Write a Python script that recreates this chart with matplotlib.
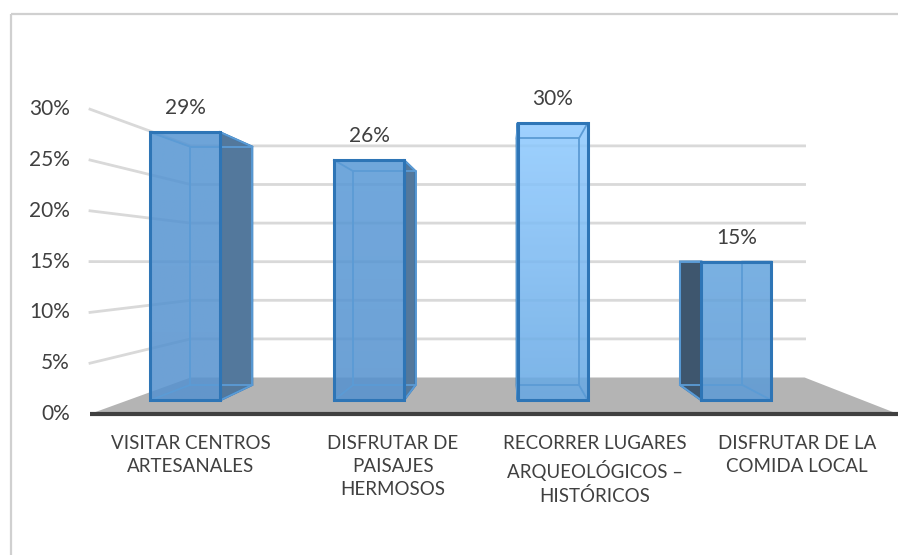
import numpy as np
import matplotlib
matplotlib.use('Agg')
import matplotlib.pyplot as plt
from matplotlib.patches import Polygon, Rectangle
from matplotlib.colors import to_rgb

plt.rcParams['font.family'] = ['Lato', 'DejaVu Sans']

# datos
categorias = ["VISITAR CENTROS\nARTESANALES",
              "DISFRUTAR DE\nPAISAJES\nHERMOSOS",
              "RECORRER LUGARES\nARQUEOLÓGICOS –\nHISTÓRICOS",
              "DISFRUTAR DE LA\nCOMIDA LOCAL"]
valores = [29, 26, 30, 15]
etiquetas = ["29%", "26%", "30%", "15%"]
ticks = [0, 5, 10, 15, 20, 25, 30]

# perspectiva (punto de fuga) y escala
VPX, VPY = 509.0, 262.0
Y0, PPU = 414.0, 10.16          # 0% en el plano frontal, px por 1%
K = 0.316                        # profundidad
X_LEFT, SLOT = 90.0, 202.0
BAR_W, BAR_SHIFT = 77.0, -38.0
Z1, Z2 = 0.316, 0.749


def proj(X, v, z):
    s = 1.0 / (1.0 + K * z)
    return VPX + (X - VPX) * s, VPY + (Y0 - PPU * v - VPY) * s


fig = plt.figure(figsize=(8.98, 5.55), dpi=100)
ax = fig.add_axes([0, 0, 1, 1])
ax.set_xlim(0, 898)
ax.set_ylim(555, 0)
ax.axis('off')

# marco del grafico
ax.add_patch(Rectangle((10.5, 13.5), 900, 560, fill=False, ec='#d0d0d0', lw=1.6, zorder=0))

X_RIGHT = X_LEFT + SLOT * len(valores)

# lineas de cuadricula (pared trasera y lateral)
for t in ticks[1:]:
    a = proj(X_LEFT, t, 0)
    b = proj(X_LEFT, t, 1)
    c = proj(X_RIGHT, t, 1)
    ax.plot([a[0], b[0], c[0]], [a[1], b[1], c[1]], color='#d9d9d9', lw=2, zorder=1,
            solid_joinstyle='miter')

# piso
piso = [proj(X_LEFT, 0, 0), proj(X_RIGHT, 0, 0), proj(X_RIGHT, 0, 1), proj(X_LEFT, 0, 1)]
ax.add_patch(Polygon(piso, closed=True, fc='#b4b4b4', ec='none', zorder=2))
p0, p1 = proj(X_LEFT, 0, 0), proj(X_RIGHT, 0, 0)
ax.plot([p0[0], p1[0]], [p0[1], p1[1]], color='#404040', lw=3, zorder=2.5, solid_capstyle='butt')

# colores de las barras (arriba, abajo)
grad = [('#5696d3', '#5692cf'), ('#5a9ad7', '#5592cf'),
        ('#8fcaff', '#66a8e4'), ('#64a4de', '#5d9bd6')]

for i, v in enumerate(valores):
    xc = X_LEFT + SLOT * (i + 0.5) + BAR_SHIFT
    xl, xr = xc - BAR_W / 2, xc + BAR_W / 2
    f = [proj(xl, 0, Z1), proj(xr, 0, Z1), proj(xr, v, Z1), proj(xl, v, Z1)]
    b = [proj(xl, 0, Z2), proj(xr, 0, Z2), proj(xr, v, Z2), proj(xl, v, Z2)]

    if xr < VPX:
        side, sc = [f[1], b[1], b[2], f[2]], '#53789c'
    else:
        side, sc = [f[0], b[0], b[3], f[3]], '#3e566e'
    ax.add_patch(Polygon(side, closed=True, fc=sc, ec='#2e75b6', lw=1.5, zorder=3))

    # cara frontal con degradado
    cara = Polygon(f, closed=True, fc='none', ec='none')
    ax.add_patch(cara)
    top, bot = np.array(to_rgb(grad[i][0])), np.array(to_rgb(grad[i][1]))
    t = np.linspace(0, 1, 64)[:, None, None]
    img = top * (1 - t) + bot * t
    xs = [p[0] for p in f]
    ys = [p[1] for p in f]
    im = ax.imshow(img, extent=(min(xs), max(xs), max(ys), min(ys)), origin='upper',
                   aspect='auto', alpha=0.86, zorder=4, interpolation='bilinear')
    im.set_clip_path(cara)

    # aristas interiores
    bx = [p[0] for p in b] + [b[0][0]]
    by = [p[1] for p in b] + [b[0][1]]
    ax.plot(bx, by, color='#5b9bd5', lw=1.3, zorder=5)
    for k in range(4):
        ax.plot([f[k][0], b[k][0]], [f[k][1], b[k][1]], color='#5b9bd5', lw=1.3, zorder=5)

    ax.add_patch(Polygon(f, closed=True, fc='none', ec='#2e75b6', lw=2.2, zorder=6))

    # etiqueta de datos
    ax.text((f[0][0] + f[1][0]) / 2, f[3][1] - 24, etiquetas[i], ha='center', va='center',
            fontsize=15, color='#404040', zorder=7)

    # etiqueta de categoria
    ax.text(X_LEFT + SLOT * (i + 0.5), Y0 + 21, categorias[i], ha='center', va='top',
            fontsize=13.5, color='#404040', linespacing=1.42, zorder=7)

# eje vertical
for t in ticks:
    x, y = proj(X_LEFT, t, 0)
    ax.text(x - 20, y, f"{t}%", ha='right', va='center', fontsize=15, color='#404040')

fig.savefig('out.png', dpi=100)
